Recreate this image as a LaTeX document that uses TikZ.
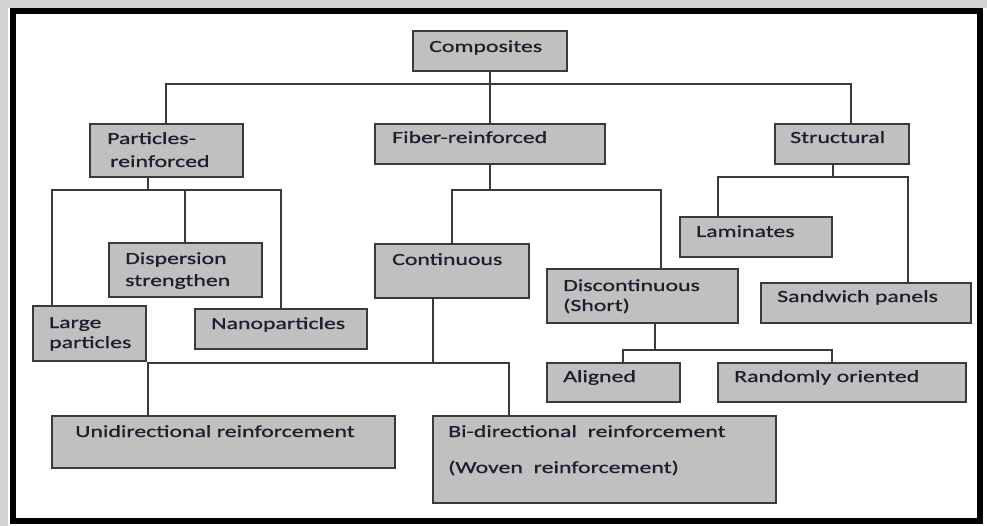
\documentclass[tikz,border=0pt]{standalone}
\usepackage{fontspec}
\setmainfont{Carlito}[FakeStretch=1.40, FakeBold=0.8]
\usetikzlibrary{fit}
\definecolor{boxfill}{HTML}{C0C0C0}
\definecolor{edge}{HTML}{3A3A3A}
\definecolor{ink}{HTML}{1E1E2E}
\tikzset{
  box/.style={draw=edge, line width=1.5pt, fill=boxfill, inner sep=0pt},
  txt/.style={anchor=base west, inner sep=0pt, text=ink, font=\fontsize{17}{20}\selectfont},
  ln/.style={draw=edge, line width=1.2pt},
}
\newcommand\bx[5]{\path (#2,#3) coordinate (#1-a) (#4,#5) coordinate (#1-b); \node[box, fit=(#1-a)(#1-b)] (#1) {};}
\begin{document}
\begin{tikzpicture}[x=1pt,y=-1pt]
\useasboundingbox (0,0) rectangle (987,526);
\fill[white] (0,0) rectangle (987,526);
\fill[gray!35] (0,0) rectangle (987,8);
\fill[gray!35] (0,0) rectangle (8,526);
\draw[line width=6pt, black] (12.5,11.5) rectangle (979.5,520.5);

% boxes
\bx{comp}{413}{31}{567}{71}
\bx{part}{90}{124}{243}{177}
\bx{fib}{375}{124}{605}{164}
\bx{str}{775}{124}{909}{164}
\bx{disp}{109}{243}{262}{297}
\bx{large}{33}{306}{146}{361}
\bx{nano}{195}{309}{367}{349}
\bx{cont}{375}{244}{529}{298}
\bx{disc}{547}{269}{738}{323}
\bx{lam}{680}{217}{832}{257}
\bx{sand}{761}{283}{971}{323}
\bx{ali}{547}{363}{680}{402}
\bx{rand}{718}{363}{966}{402}
\bx{uni}{52}{416}{395}{468}
\bx{bi}{433}{416}{776}{503}

% texts
\node[txt] (comp-t) at (429,52) {Composites};
\node[txt] (part-t1) at (107,144) {Particles-};
\node[txt] (part-t2) at (110,167) {reinforced};
\node[txt] (fib-t) at (392,143) {Fiber-reinforced};
\node[txt] (str-t) at (790,143) {Structural};
\node[txt] (disp-t1) at (125,264) {Dispersion};
\node[txt] (disp-t2) at (125,286) {strengthen};
\node[txt] (large-t1) at (49,328) {Large};
\node[txt] (large-t2) at (49,348) {particles};
\node[txt] (nano-t) at (211,329) {Nanoparticles};
\node[txt] (cont-t) at (392,265) {Continuous};
\node[txt] (disc-t1) at (563,291) {Discontinuous};
\node[txt] (disc-t2) at (563,311) {(Short)};
\node[txt] (lam-t) at (696,237) {Laminates};
\node[txt] (sand-t) at (777,302) {Sandwich panels};
\node[txt] (ali-t) at (563,382) {Aligned};
\node[txt] (rand-t) at (734,382) {Randomly oriented};
\node[txt] (uni-t) at (75,437) {Unidirectional reinforcement};
\node[txt] (bi-t1) at (448,437) {Bi-directional\ \ reinforcement};
\node[txt] (bi-t2) at (448,473) {(Woven\ \ reinforcement)};

% junction coordinates
\coordinate (j0) at (490,84);
\coordinate (j0l) at (166,84);
\coordinate (j0r) at (851,84);
\coordinate (jp) at (148,190);
\coordinate (jpl) at (52,190);
\coordinate (jpm) at (185,190);
\coordinate (jpr) at (281,190);
\coordinate (jf) at (490,190);
\coordinate (jfl) at (452,190);
\coordinate (jfr) at (661,190);
\coordinate (js) at (833,177);
\coordinate (jsl) at (718,177);
\coordinate (jsr) at (908,177);
\coordinate (jd) at (655,350);
\coordinate (jdl) at (623,350);
\coordinate (jdr) at (832,350);
\coordinate (jc) at (433,363);
\coordinate (jcl) at (148,363);
\coordinate (jcr) at (509,363);

% connectors
\draw[ln] (comp.south) -- (fib.north);
\draw[ln] (part.north -| j0l) -- (j0l) -- (j0r) -- (str.north -| j0r);

\draw[ln] (part.south -| jp) -- (jp);
\draw[ln] (large.north -| jpl) -- (jpl) -- (jpr) -- (nano.north -| jpr);
\draw[ln] (jpm) -- (disp.north -| jpm);

\draw[ln] (fib.south) -- (jf);
\draw[ln] (cont.north -| jfl) -- (jfl) -- (jfr) -- (disc.north -| jfr);

\draw[ln] (str.south -| js) -- (js);
\draw[ln] (lam.north -| jsl) -- (jsl) -- (jsr) -- (sand.north -| jsr);

\draw[ln] (disc.south -| jd) -- (jd);
\draw[ln] (ali.north -| jdl) -- (jdl) -- (jdr) -- (rand.north -| jdr);

\draw[ln] (cont.south -| jc) -- (jc);
\draw[ln] (uni.north -| jcl) -- (jcl) -- (jcr) -- (bi.north -| jcr);
\end{tikzpicture}
\end{document}
